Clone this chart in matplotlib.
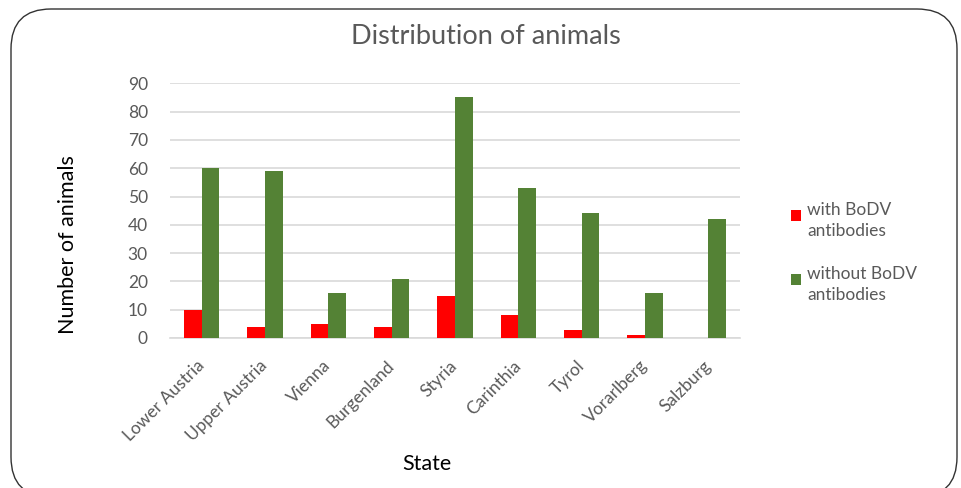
import matplotlib
matplotlib.use("Agg")
import matplotlib.pyplot as plt
from matplotlib.patches import FancyBboxPatch, Rectangle
from matplotlib.container import BarContainer
from matplotlib.legend_handler import HandlerPatch, update_from_first_child
import numpy as np

plt.rcParams['font.family'] = ['Lato', 'DejaVu Sans']

states = ["Lower Austria", "Upper Austria", "Vienna", "Burgenland", "Styria",
          "Carinthia", "Tyrol", "Vorarlberg", "Salzburg"]
with_ab = [10, 4, 5, 4, 15, 8, 3, 1, 0]
without_ab = [60, 59, 16, 21, 85, 53, 44, 16, 42]
yticks = list(range(0, 100, 10))

RED = "#FF0000"
GREEN = "#548235"
GRAY = "#595959"
GRID = "#D9D9D9"


class TopSquare(HandlerPatch):
    # legend key aligned with the first line of a two-line label
    def __init__(self):
        super().__init__(update_func=update_from_first_child)

    def create_artists(self, legend, orig_handle, xdescent, ydescent, width, height,
                       fontsize, trans):
        s = 0.62 * fontsize
        p = Rectangle((-xdescent, -ydescent + height - s - 0.3 * fontsize), s, s)
        self.update_prop(p, orig_handle, legend)
        p.set_transform(trans)
        return [p]


fig = plt.figure(figsize=(9.62, 4.88), dpi=100)

# rounded frame around the whole chart, drawn in pixel units
bg = fig.add_axes([0, 0, 1, 1])
bg.set_xlim(0, 962)
bg.set_ylim(488, 0)
bg.axis("off")
bg.add_patch(FancyBboxPatch((11, 9), 946, 488, boxstyle="round,pad=0,rounding_size=40",
                            fc="white", ec="#333333", lw=1.0))

ax = fig.add_axes([170 / 962, 150 / 488, 570 / 962, 254.7 / 488])
x = np.arange(len(states))
w = 0.277
ax.bar(x - w / 2, with_ab, w, color=RED, label="with BoDV\nantibodies", zorder=3)
ax.bar(x + w / 2, without_ab, w, color=GREEN, label="without BoDV\nantibodies", zorder=3)

ax.set_xlim(-0.5, len(states) - 0.5)
ax.set_ylim(0, 90)
ax.set_yticks(yticks)
ax.yaxis.grid(True, color=GRID, lw=1.2, zorder=0)
ax.set_axisbelow(True)
for s in ["top", "right", "left"]:
    ax.spines[s].set_visible(False)
ax.spines["bottom"].set_color(GRID)
ax.spines["bottom"].set_linewidth(1.2)
ax.tick_params(axis="both", length=0, colors=GRAY, labelsize=12.5)
ax.tick_params(axis="y", pad=16)
ax.set_xticks(x)
ax.set_xticklabels(states, rotation=45, ha="right", va="center", rotation_mode="anchor")
ax.tick_params(axis="x", pad=18)

ax.set_ylabel("Number of animals", fontsize=15.5, color="black")
ax.yaxis.set_label_coords(-0.162, 0.365)
ax.set_xlabel("State", fontsize=15.5, color="black")
ax.xaxis.set_label_coords(0.451, -0.455)
fig.text(486 / 962, 1 - 36 / 488, "Distribution of animals", ha="center", va="center",
         fontsize=19.5, color=GRAY)

leg = ax.legend(loc="upper left", bbox_to_anchor=(775 / 962, 1 - 186 / 488),
                bbox_transform=fig.transFigure, frameon=False, fontsize=12.5,
                labelcolor=GRAY, handlelength=0.62, handleheight=2.6,
                handletextpad=0.35, labelspacing=1.5,
                handler_map={BarContainer: TopSquare()})
for t in leg.get_texts():
    t.set_linespacing(1.45)

fig.savefig("out.png", dpi=100)
